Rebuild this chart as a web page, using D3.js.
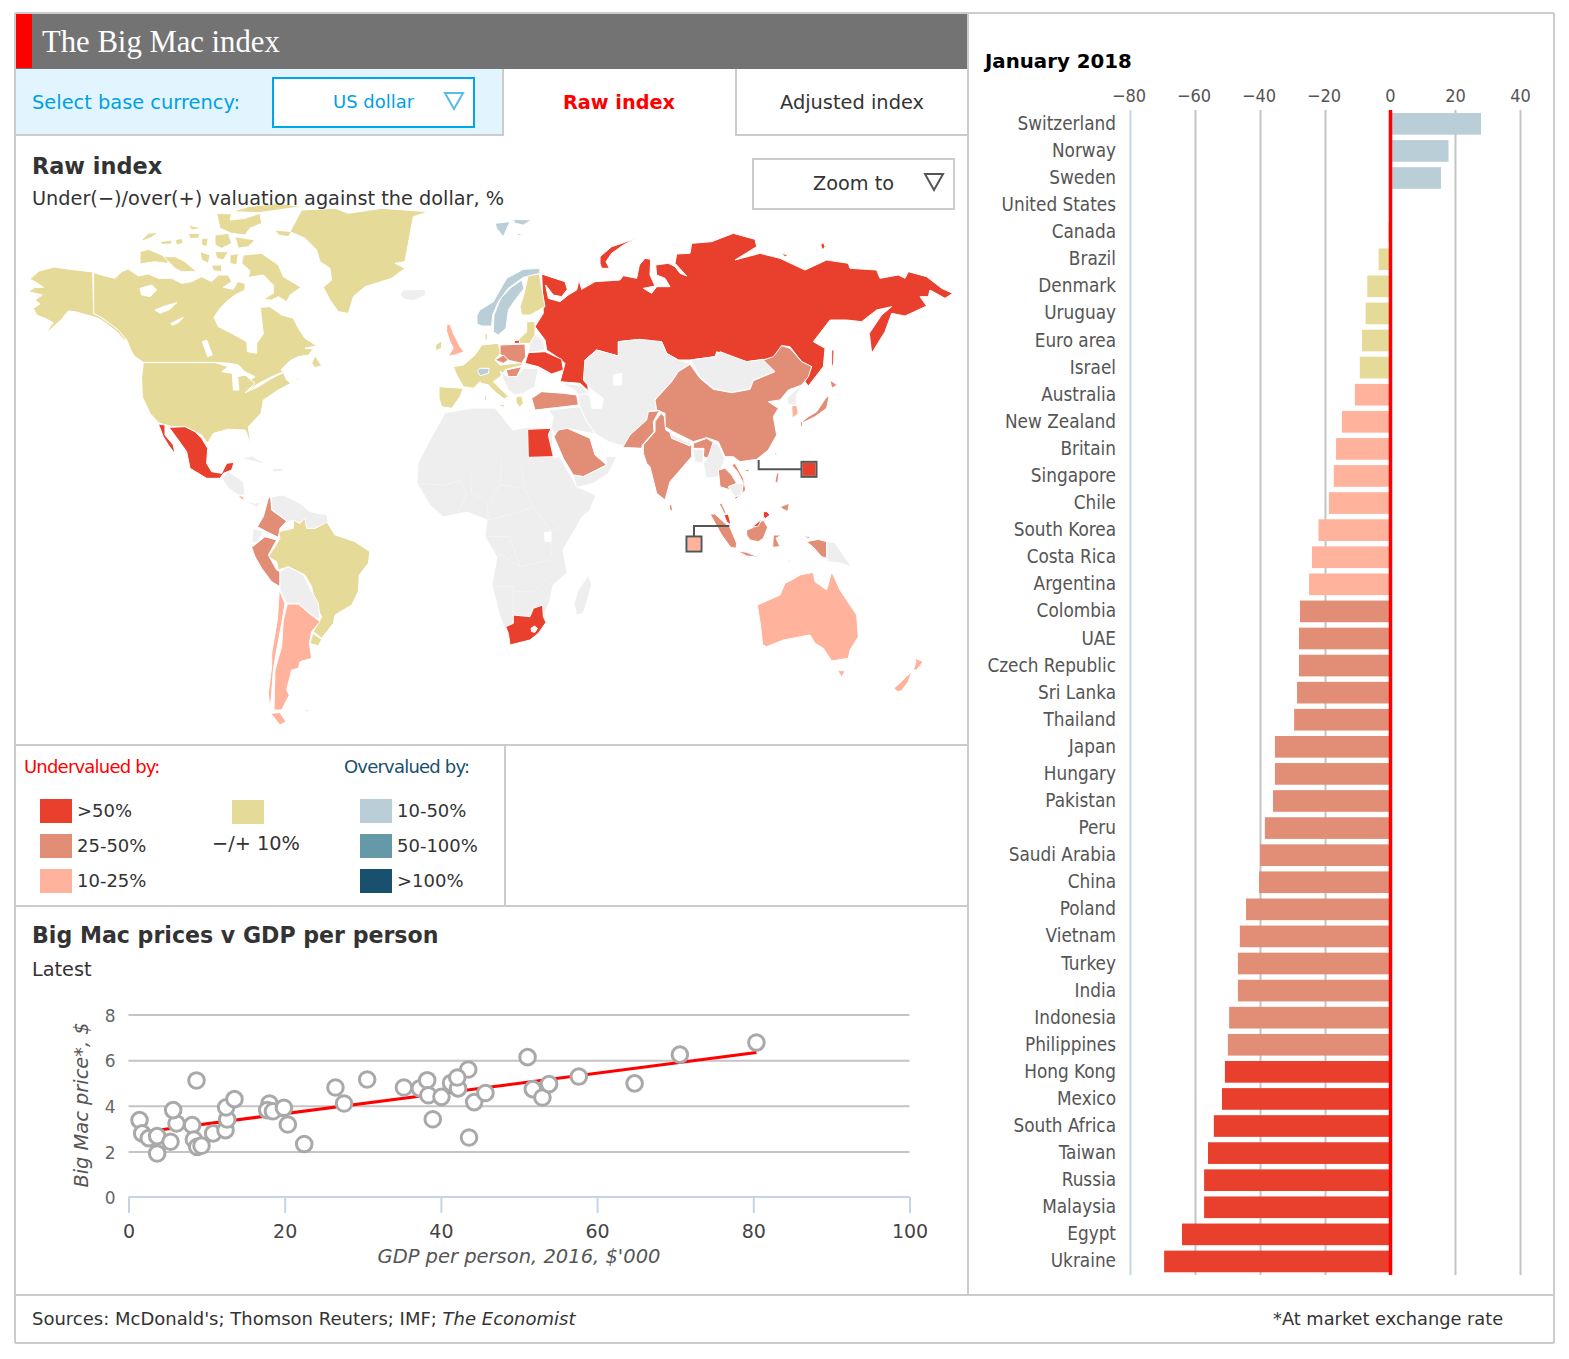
<!DOCTYPE html>
<html>
<head>
<meta charset="utf-8">
<title>The Big Mac index</title>
<script src="https://cdn.jsdelivr.net/npm/d3@7"></script>
<style>
body { margin: 0; background: #fff; }
text { font-family: "DejaVu Sans", sans-serif; fill: #333; }
.narrow { font-family: "DejaVu Sans Condensed", "Noto Sans", sans-serif; fill: #555; }
</style>
</head>
<body>
<div id="chart"></div>
<script>
// bar chart, January 2018
var countries = ["Switzerland","Norway","Sweden","United States","Canada","Brazil","Denmark","Uruguay","Euro area","Israel","Australia","New Zealand","Britain","Singapore","Chile","South Korea","Costa Rica","Argentina","Colombia","UAE","Czech Republic","Sri Lanka","Thailand","Japan","Hungary","Pakistan","Peru","Saudi Arabia","China","Poland","Vietnam","Turkey","India","Indonesia","Philippines","Hong Kong","Mexico","South Africa","Taiwan","Russia","Malaysia","Egypt","Ukraine"];
var rawIndex = [28,18,15.7,0,-0.5,-3.5,-7,-7.5,-8.6,-9.3,-10.8,-14.8,-16.6,-17.3,-18.8,-22,-24,-24.9,-27.7,-28,-28,-28.6,-29.5,-35.4,-35.4,-36,-38.5,-40,-40.3,-44.3,-46.2,-46.8,-46.8,-49.5,-49.9,-50.8,-51.7,-54.2,-56,-57.2,-57.2,-64,-69.5];
var barTicks = [-80,-60,-40,-20,0,20,40];

// scatter, GDP per person ('000) and Big Mac price ($)
var gdpPerPerson = [1.41,1.75,2.6,3.67,3.67,5.38,6.15,5.72,8.15,8.37,8.71,8.8,9.35,10.84,12.42,12.64,12.5,13.57,18.05,17.76,18.5,19.9,20.4,22.5,26.5,27.6,30.56,35.26,37.3,38.25,38.4,40.07,38.96,41.3,42.2,43.5,42.1,43.6,44.26,45.7,51.1,51.77,53,53.85,57.66,64.8,70.6,80.4];
var bigMacPrice = [3.37,2.79,2.58,2.67,1.91,2.42,3.22,3.81,3.15,2.52,5.11,2.2,2.25,2.79,2.93,3.4,3.93,4.29,4.1,3.81,3.76,3.91,3.18,2.32,4.8,4.1,5.15,4.8,4.76,5.12,4.46,4.39,3.41,5,4.76,5.59,5.24,2.61,4.16,4.56,6.13,4.73,4.36,4.95,5.28,4.98,6.24,6.77];
var trendGdp = [3.67,80.4];
var trendPrice = [2.93,6.33];

// legend
var underLabels = [">50%","25-50%","10-25%"];
var overLabels = ["10-50%","50-100%",">100%"];
var colRed = "#e9402d", colMid = "#e28e76", colLight = "#ffb29c", colSand = "#e6da98", colBlue1 = "#b9ced7", colBlue2 = "#6699a8", colBlue3 = "#19506e", colGrey = "#eeeeee", colWater = "#ffffff";
var underColors = [colRed,colMid,colLight];
var overColors = [colBlue1,colBlue2,colBlue3];

// map outlines, traced in three-to-a-pixel map units, one list per map sheet
var sheetWest = [
  [colSand,[[45,237],[72,213],[118,201],[165,208],[233,216],[236,340],[258,352],[287,372],[312,392],[333,418],[328,420],[305,395],[280,375],[255,358],[235,350],[205,342],[180,335],[160,333],[140,358],[110,385],[93,400],[105,380],[115,368],[90,355],[65,345],[55,325],[75,312],[60,300],[82,285],[40,275],[60,262],[85,262],[65,248]]],
  [colSand,[[236,218],[270,228],[300,235],[320,215],[340,207],[370,228],[400,222],[430,235],[470,235],[500,250],[530,245],[560,230],[590,245],[610,225],[640,225],[650,245],[625,262],[655,268],[668,245],[690,250],[690,270],[660,285],[640,300],[615,325],[597,352],[610,380],[650,400],[695,425],[698,455],[725,460],[725,430],[745,402],[738,345],[737,322],[765,320],[800,345],[835,355],[850,385],[870,415],[905,437],[870,445],[895,447],[880,465],[850,470],[825,482],[798,510],[805,515],[770,530],[735,548],[700,570],[690,565],[705,540],[720,530],[690,515],[670,495],[645,490],[600,487],[385,487],[360,470],[350,455],[335,420],[312,392],[287,372],[258,352],[236,340]]],
  [colSand,[[385,488],[600,488],[640,500],[620,515],[652,520],[655,570],[672,570],[668,530],[690,525],[720,550],[690,578],[730,560],[770,535],[805,518],[815,540],[828,550],[790,570],[745,600],[738,640],[700,680],[708,740],[695,700],[690,690],[640,688],[595,700],[578,730],[560,705],[540,695],[510,680],[470,680],[430,668],[405,640],[382,590],[380,530]]],
  [colSand,[[685,165],[740,160],[790,195],[805,230],[858,262],[825,285],[815,305],[790,290],[770,300],[745,298],[775,280],[775,255],[745,225],[700,232],[705,212],[680,190]]],
  [colSand,[[380,120],[400,100],[430,97],[410,112],[385,122]]],
  [colSand,[[375,155],[400,148],[440,165],[475,175],[455,190],[420,185],[375,192]]],
  [colSand,[[435,125],[470,120],[470,132],[440,133]]],
  [colSand,[[480,120],[500,115],[505,130],[485,135]]],
  [colSand,[[520,75],[560,85],[530,90]]],
  [colSand,[[520,100],[555,100],[550,115],[525,115]]],
  [colSand,[[560,115],[580,115],[575,140],[560,135]]],
  [colSand,[[600,105],[640,100],[650,130],[620,145],[600,135]]],
  [colSand,[[660,110],[720,120],[700,140],[670,145]]],
  [colSand,[[605,40],[650,42],[645,60],[690,55],[735,40],[740,70],[705,85],[690,105],[650,100],[615,85]]],
  [colSand,[[600,155],[640,155],[625,180],[605,175]]],
  [colSand,[[555,155],[585,165],[580,190],[560,180]]],
  [colSand,[[645,165],[670,160],[665,195],[645,190]]],
  [colSand,[[445,170],[480,170],[510,185],[545,215],[500,215],[480,205]]],
  [colSand,[[590,195],[620,195],[620,215],[595,212]]],
  [colSand,[[780,90],[830,95],[820,110],[790,105]]],
  [colSand,[[650,35],[730,38],[860,20],[790,10],[700,20]]],
  [colSand,[[890,490],[900,467],[920,497],[900,503]]],
  [colSand,[[830,545],[857,530],[850,538]]],
  [colSand,[[825,95],[870,115],[905,150],[915,185],[945,205],[950,240],[925,262],[945,300],[970,335],[1000,340],[1015,290],[1050,260],[1130,235],[1170,205],[1140,190],[1170,185],[1180,130],[1195,50],[1240,35],[1100,25],[1000,40],[960,25],[860,30]]],
  [colGrey,[[1155,285],[1165,270],[1230,268],[1232,285],[1195,302],[1170,298]]],
  [colLight,[[1295,375],[1305,372],[1315,400],[1335,440],[1347,455],[1320,465],[1300,468],[1315,445],[1305,425],[1295,395]]],
  [colSand,[[1262,435],[1280,422],[1280,445],[1262,452]]],
  [colSand,[[1272,560],[1345,565],[1335,590],[1310,625],[1280,620],[1272,595]]],
  [colRed,[[462,682],[510,680],[540,695],[560,715],[578,745],[575,790],[590,815],[620,820],[635,790],[657,787],[650,810],[625,820],[615,835],[575,835],[525,805],[515,755],[490,720]]],
  [colRed,[[430,672],[450,675],[450,705],[475,735],[480,762],[460,735],[445,710]]],
  [colGrey,[[680,775],[710,768],[760,795],[720,785]]],
  [colGrey,[[770,805],[805,805],[800,815],[775,815]]],
  [colWater,[[375,265],[410,255],[425,270],[405,290],[380,285]]],
  [colWater,[[420,330],[450,318],[485,308],[465,328],[435,340]]],
  [colWater,[[468,370],[505,352],[490,368],[472,376]]],
  [colWater,[[562,425],[575,420],[592,465],[578,470]]]
];

var sheetEast = [
  [colRed,[[185,222],[255,245],[262,268],[245,290],[220,285],[197,255],[205,295],[240,305],[265,285],[290,270],[297,240],[305,268],[345,245],[420,240],[430,227],[470,235],[478,195],[495,175],[512,178],[510,225],[525,258],[490,265],[515,280],[530,260],[570,260],[555,235],[530,225],[527,195],[565,190],[585,200],[600,220],[620,228],[585,190],[590,162],[630,160],[635,130],[695,125],[760,100],[825,118],[830,140],[765,180],[840,160],[900,175],[975,210],[1040,180],[1105,190],[1110,205],[1190,210],[1200,235],[1255,225],[1275,235],[1285,215],[1340,230],[1385,265],[1418,280],[1395,295],[1350,270],[1345,290],[1320,290],[1340,318],[1275,348],[1235,340],[1215,395],[1175,460],[1168,400],[1205,345],[1235,320],[1190,330],[1145,365],[1100,360],[1050,360],[1000,425],[1035,445],[1030,500],[985,558],[975,545],[995,500],[965,485],[930,440],[905,437],[880,475],[800,485],[750,470],[710,455],[705,470],[630,480],[595,480],[560,460],[545,425],[500,430],[480,418],[415,425],[415,468],[350,450],[315,480],[325,572],[300,550],[240,545],[255,490],[230,470],[200,450],[195,420],[165,380],[190,340]]],
  [colRed,[[360,190],[360,170],[395,140],[470,115],[430,135],[395,160],[378,185],[388,205],[365,205]]],
  [colRed,[[1022,135],[1030,127],[1035,140],[1028,150]]],
  [colRed,[[905,160],[925,165],[915,170]]],
  [colRed,[[1055,450],[1062,450],[1060,510],[1055,490]]],
  [colRed,[[135,490],[145,458],[195,455],[245,478],[250,510],[215,522],[175,500]]],
  [colSand,[[120,320],[130,290],[145,225],[178,222],[195,320],[150,345],[125,345]]],
  [colSand,[[115,420],[140,395],[140,365],[165,365],[165,405],[150,430],[115,430]]],
  [colRed,[[103,422],[118,420],[118,430],[103,430]]],
  [colGrey,[[150,430],[165,405],[190,420],[195,450],[145,458]]],
  [colBlue1,[[40,395],[42,345],[62,295],[90,265],[125,240],[132,265],[105,300],[85,330],[78,385],[55,405]]],
  [colBlue1,[[-9,345],[0,330],[40,305],[80,235],[130,208],[180,205],[178,220],[130,232],[85,265],[55,305],[38,345],[35,378],[5,378],[-9,372]]],
  [colBlue1,[[45,70],[90,65],[70,110],[50,85]]],
  [colBlue1,[[100,58],[155,60],[130,75],[105,70]]],
  [colBlue1,[[110,100],[128,103],[115,108]]],
  [colSand,[[15,400],[22,400],[22,420],[15,420]]],
  [colSand,[[-80,500],[-50,495],[-15,465],[5,435],[55,430],[62,460],[45,480],[60,495],[130,487],[125,497],[78,508],[60,530],[40,545],[70,575],[85,590],[72,597],[45,575],[25,555],[5,550],[0,545],[-20,565],[-50,560],[-70,525]]],
  [colBlue1,[[-8,512],[0,505],[28,505],[25,520],[0,527]]],
  [colSand,[[14,585],[20,585],[20,600],[14,600]]],
  [colSand,[[55,615],[75,612],[70,622]]],
  [colSand,[[108,590],[125,588],[130,610],[118,622],[108,605]]],
  [colMid,[[60,435],[135,432],[137,470],[125,490],[75,478],[60,460]]],
  [colMid,[[45,480],[70,465],[85,480],[70,490]]],
  [colMid,[[78,510],[125,500],[110,530],[85,530]]],
  [colGrey,[[60,515],[85,530],[110,530],[130,505],[175,505],[165,560],[130,580],[105,585],[85,570]]],
  [colMid,[[155,595],[185,575],[250,580],[290,585],[295,615],[210,625],[165,630]]],
  [colGrey,[[315,480],[350,450],[415,468],[415,425],[480,418],[545,425],[560,460],[595,480],[630,490],[595,515],[575,545],[525,598],[530,630],[505,635],[500,660],[465,695],[430,738],[385,725],[345,700],[320,665],[300,625],[295,585],[300,570],[330,590],[335,625],[365,625],[370,595],[335,570],[310,540]]],
  [colGrey,[[245,550],[300,555],[325,580],[295,585],[285,570]]],
  [colGrey,[[205,630],[300,620],[320,665],[345,700],[335,700],[262,685],[225,700],[213,685],[220,650]]],
  [colMid,[[235,690],[262,685],[330,715],[345,765],[380,795],[310,830],[280,825],[250,775],[222,710]]],
  [colGrey,[[280,825],[310,830],[380,795],[375,770],[410,770],[385,820],[340,850],[290,862]]],
  [colGrey,[[632,480],[705,470],[720,455],[800,485],[850,478],[885,515],[820,540],[810,565],[755,578],[700,565],[660,530]]],
  [colMid,[[525,600],[575,545],[595,515],[630,493],[660,535],[700,568],[755,578],[810,568],[820,542],[885,515],[850,480],[880,470],[905,437],[930,445],[965,485],[995,500],[985,530],[965,555],[925,570],[900,600],[865,605],[895,625],[880,650],[890,705],[865,750],[830,778],[780,785],[760,770],[735,770],[715,725],[680,713],[640,725],[580,695],[555,680],[555,640],[530,630]]],
  [colGrey,[[920,595],[965,555],[950,585],[950,615],[925,615]]],
  [colLight,[[935,618],[950,615],[955,640],[937,655]]],
  [colMid,[[1040,590],[1047,590],[1040,625],[1005,650],[975,665],[960,670],[985,650],[1010,635]]],
  [colMid,[[1050,540],[1072,555],[1055,565]]],
  [colMid,[[962,665],[968,665],[968,680],[962,680]]],
  [colMid,[[428,742],[450,705],[500,660],[505,635],[538,632],[520,665],[522,695],[487,735],[485,745]]],
  [colMid,[[543,640],[553,650],[557,690],[635,735],[635,770],[570,845],[555,900],[530,880],[510,800],[500,790],[490,760],[490,735],[525,695],[525,665]]],
  [colMid,[[640,730],[680,715],[705,730],[685,775],[670,770],[672,745],[640,745]]],
  [colGrey,[[570,700],[630,730],[630,738],[575,715]]],
  [colGrey,[[637,748],[670,748],[670,790],[645,785]]],
  [colGrey,[[700,725],[715,735],[735,775],[715,830],[680,835],[670,790],[685,770]]],
  [colWater,[[400,525],[425,520],[425,555],[400,555]]],
  [colRed,[[143,688],[213,685],[205,705],[220,770],[145,772]]]
];

var sheetSouth = [
  [colGrey,[[1122,430],[1135,390],[1165,345],[1175,375],[1150,460],[1130,465]]],
  [colRed,[[917,500],[940,490],[940,465],[990,470],[1000,445],[1028,435],[1030,470],[1038,487],[1015,520],[990,540],[930,555],[925,520]]],
  [colWater,[[993,505],[1003,498],[1012,505],[1005,517],[995,515]]],
  [colWater,[[1033,218],[1053,215],[1053,245],[1035,245]]],
  [colSand,[[280,180],[300,190],[315,172],[320,205],[345,205],[380,185],[405,225],[415,228],[465,245],[510,275],[505,310],[478,345],[475,395],[455,435],[405,465],[400,490],[365,535],[340,515],[355,490],[365,470],[345,430],[335,380],[315,345],[265,320],[235,330],[230,305],[205,290],[225,260],[240,235],[235,215],[280,205]]],
  [colSand,[[338,520],[365,538],[355,558],[330,550]]],
  [colMid,[[205,115],[212,110],[215,150],[260,183],[240,205],[235,232],[200,215],[172,200],[190,170]]],
  [colGrey,[[215,110],[250,105],[300,130],[330,155],[380,165],[385,185],[345,205],[320,205],[315,175],[300,190],[280,180],[265,185],[215,150]]],
  [colGrey,[[160,205],[190,215],[170,250],[155,245]]],
  [colMid,[[155,262],[195,230],[230,240],[205,285],[230,330],[240,335],[240,380],[215,365],[185,325],[165,290]]],
  [colGrey,[[240,335],[265,320],[310,345],[330,385],[355,430],[360,480],[330,460],[295,430],[260,430],[240,390]]],
  [colLight,[[238,390],[255,430],[245,490],[230,570],[220,630],[215,700],[210,750],[205,700],[215,620],[215,580],[232,480]]],
  [colLight,[[262,432],[295,432],[330,462],[360,485],[335,515],[328,550],[335,595],[300,605],[295,625],[275,630],[260,690],[268,705],[245,750],[222,750],[225,630],[245,560],[250,480]]],
  [colLight,[[212,760],[240,758],[258,785],[240,795]]],
  [colGrey,[[310,750],[330,748],[325,758]]],
  [colGrey,[[65,55],[85,35],[130,65],[135,105],[115,105],[85,85]]],
  [colLight,[[115,105],[130,110],[135,122],[120,115]]],
  [colGrey,[[138,122],[165,130],[185,125],[170,142],[150,132]]]
];

var sheetOcean = [
  [colMid,[[207,193],[215,195],[218,212],[210,212]]],
  [colMid,[[355,90],[375,85],[395,105],[410,130],[385,148],[360,140]]],
  [colMid,[[357,190],[365,190],[380,222],[372,220]]],
  [colGrey,[[385,140],[410,130],[430,130],[425,165],[405,170],[390,150]]],
  [colMid,[[405,70],[430,115],[437,150],[405,180],[405,170],[425,165],[430,130],[412,95],[395,75]]],
  [colMid,[[437,88],[447,88],[447,95],[437,95]]],
  [colRed,[[372,225],[385,222],[393,255],[380,245]]],
  [colMid,[[330,222],[345,222],[375,250],[390,262],[410,310],[408,325],[392,322],[365,285]]],
  [colMid,[[410,332],[440,337],[477,352],[440,348]]],
  [colMid,[[440,270],[455,265],[490,240],[503,262],[490,295],[475,305],[450,300],[440,285]]],
  [colRed,[[455,262],[485,238],[475,258]]],
  [colRed,[[490,215],[500,215],[510,225],[497,235],[490,232]]],
  [colMid,[[520,285],[545,285],[528,295],[540,320],[518,322]]],
  [colMid,[[530,98],[537,100],[533,130],[525,125]]],
  [colMid,[[540,200],[568,190],[563,215],[550,208]]],
  [colRed,[[525,38],[530,38],[527,50]]],
  [colMid,[[610,287],[630,290],[625,296]]],
  [colMid,[[620,305],[655,298],[680,305],[680,355],[665,350],[640,322]]],
  [colGrey,[[680,305],[705,308],[730,345],[755,380],[715,368],[682,365]]],
  [colGrey,[[555,368],[575,358],[570,368]]],
  [colLight,[[472,495],[540,465],[555,430],[575,420],[600,405],[640,397],[645,425],[680,450],[695,395],[720,450],[770,525],[775,590],[750,630],[745,655],[695,663],[670,625],[645,610],[630,585],[550,600],[500,620],[488,615],[482,560]]],
  [colLight,[[712,690],[735,693],[725,712]]],
  [colLight,[[935,632],[945,655],[970,665],[950,690],[940,690],[948,665]]],
  [colLight,[[882,745],[935,695],[925,725],[905,752],[892,755]]]
];

// Africa, one map unit to a pixel, sits under the other sheets
var sheetAfrica = [
  [colGrey,[[445,413],[472,408],[495,408],[513,430],[528,427],[552,428],[553,457],[560,457],[577,487],[596,495],[590,510],[582,517],[563,550],[567,573],[553,585],[550,600],[545,613],[545,625],[510,640],[500,617],[492,585],[497,557],[485,537],[487,520],[467,512],[443,517],[430,505],[417,483],[418,463],[430,440]]]
];
// faint inner borders of Africa, same units as sheetSouth
var africaBorders = [
  [[655,70],[740,75],[780,60],[800,105],[770,165]],
  [[810,30],[815,100],[860,125],[865,175]],
  [[905,0],[900,75],[870,125]],
  [[900,75],[975,85],[1000,140],[930,165],[860,180]],
  [[975,85],[965,20]],
  [[1000,140],[1050,210],[1055,290]],
  [[860,230],[930,230],[960,320],[1050,300]],
  [[880,270],[960,320]],
  [[880,380],[940,380],[940,465]],
  [[940,395],[1000,395],[1050,350]],
  [[1100,190],[1060,210]]
];
var calloutLines = [
  [[476,60],[476,88],[605,88]],
  [[388,258],[282,258],[282,290]]
];
var calloutBoxes = [[colRed,[627,88]],[colLight,[282,312]]];

var svg = d3.select("#chart").append("svg").attr("width", 1569).attr("height", 1359);

// frame and header
var lineCol = "#cccccc";
function rule(x1, y1, x2, y2) {
  svg.append("line").attr("x1", x1).attr("y1", y1).attr("x2", x2).attr("y2", y2).style("stroke", lineCol).style("stroke-width", 2);
}
svg.append("rect").attr("x", 15).attr("y", 14).attr("width", 953).attr("height", 55).style("fill", "#737373");
svg.append("rect").attr("x", 16).attr("y", 14).attr("width", 16).attr("height", 54).style("fill", "#ff0000");
svg.append("text").attr("x", 42).attr("y", 52).style("font-family", "'Liberation Serif', serif").style("font-size", "30.7px").style("fill", "#fff").text("The Big Mac index");

svg.append("rect").attr("x", 16).attr("y", 69).attr("width", 487).attr("height", 66).style("fill", "#e2f5fe");
svg.append("rect").attr("x", 273).attr("y", 78).attr("width", 201).attr("height", 49).style("fill", "#fff").style("stroke", "#00a7e6").style("stroke-width", 2);
svg.append("text").attr("x", 32).attr("y", 109).style("font-size", "19.4px").style("fill", "#00a0e4").text("Select base currency:");
svg.append("text").attr("x", 333).attr("y", 108).style("font-size", "18px").style("fill", "#00a0e4").text("US dollar");
svg.append("path").attr("d", "M445,93H463L454,109Z").style("fill", "none").style("stroke", "#55bde8").style("stroke-width", 2);

rule(15, 13, 1554, 13); rule(15, 13, 15, 1343); rule(1554, 13, 1554, 1343); rule(15, 1343, 1554, 1343);
rule(15, 1295, 1554, 1295); rule(968, 13, 968, 1295);
rule(503, 69, 503, 136); rule(736, 69, 736, 136); rule(15, 135, 503, 135); rule(736, 135, 968, 135);
rule(15, 745, 968, 745); rule(15, 906, 968, 906); rule(505, 745, 505, 906);

svg.append("text").attr("x", 619).attr("y", 109).attr("text-anchor", "middle").style("font-size", "19.3px").style("font-weight", "bold").style("fill", "#ff0000").text("Raw index");
svg.append("text").attr("x", 852).attr("y", 109).attr("text-anchor", "middle").style("font-size", "19.4px").text("Adjusted index");

// map
function drawSheet(list, k, ox, oy) {
  var path = d3.geoPath(d3.geoIdentity().scale(k).translate([ox, oy]));
  svg.append("g").selectAll("path").data(list).enter().append("path")
    // geoPath drops the last vertex of a ring, so close it first
    .attr("d", function(d) { return path({type: "Polygon", coordinates: [d[1].concat([d[1][0]])]}); })
    .style("fill", function(d) { return d[0]; })
    .style("stroke", "#fff").style("stroke-width", 1).style("stroke-linejoin", "round");
}
drawSheet(sheetAfrica, 1, 0, 0);
var southProj = d3.geoIdentity().scale(1/3).translate([200, 460]);
var borderPath = d3.geoPath(southProj);
svg.append("g").selectAll("path").data(africaBorders).enter().append("path")
  .attr("d", function(d) { return borderPath({type: "LineString", coordinates: d}); })
  .style("fill", "none").style("stroke", "#f4f4f4").style("stroke-width", 1);
drawSheet(sheetWest, 1/3, 15, 200);
drawSheet(sheetSouth, 1/3, 200, 460);
drawSheet(sheetEast, 1/3, 480, 200);
drawSheet(sheetOcean, 1/3, 600, 440);

var oceanProj = d3.geoIdentity().scale(1/3).translate([600, 440]);
var calloutPath = d3.geoPath(oceanProj);
svg.append("g").selectAll("path").data(calloutLines).enter().append("path")
  .attr("d", function(d) { return calloutPath({type: "LineString", coordinates: d}); })
  .style("fill", "none").style("stroke", "#555").style("stroke-width", 2);
calloutBoxes.forEach(function(b) {
  var c = oceanProj(b[1]);
  svg.append("rect").attr("x", c[0] - 7).attr("y", c[1] - 7).attr("width", 14).attr("height", 14).style("fill", b[0]).style("stroke", "#fff").style("stroke-width", 1);
  svg.append("rect").attr("x", c[0] - 7.5).attr("y", c[1] - 7.5).attr("width", 15).attr("height", 15).style("fill", "none").style("stroke", "#555").style("stroke-width", 2);
});

// headings and zoom box sit over the map
svg.append("text").attr("x", 32).attr("y", 174).style("font-size", "22.4px").style("font-weight", "bold").text("Raw index");
svg.append("text").attr("x", 32).attr("y", 205).style("font-size", "19.3px").text("Under(−)/over(+) valuation against the dollar, %");
svg.append("rect").attr("x", 753).attr("y", 159).attr("width", 201).attr("height", 50).style("fill", "#fff").style("stroke", lineCol).style("stroke-width", 2);
svg.append("text").attr("x", 813).attr("y", 190).style("font-size", "19.3px").text("Zoom to");
svg.append("path").attr("d", "M925,174H943L934,190Z").style("fill", "none").style("stroke", "#555").style("stroke-width", 2);

// legend
svg.append("text").attr("x", 24).attr("y", 773).style("font-size", "18px").style("letter-spacing", "-0.8px").style("fill", "#ff0000").text("Undervalued by:");
svg.append("text").attr("x", 344).attr("y", 773).style("font-size", "18px").style("letter-spacing", "-0.8px").style("fill", "#19506e").text("Overvalued by:");
var legendY = d3.scalePoint().domain([0,1,2]).range([799, 869]);
underColors.forEach(function(c, i) {
  svg.append("rect").attr("x", 40).attr("y", legendY(i)).attr("width", 32).attr("height", 24).style("fill", c);
  svg.append("text").attr("x", 77).attr("y", legendY(i) + 18).style("font-size", "18px").text(underLabels[i]);
  svg.append("rect").attr("x", 360).attr("y", legendY(i)).attr("width", 32).attr("height", 24).style("fill", overColors[i]);
  svg.append("text").attr("x", 397).attr("y", legendY(i) + 18).style("font-size", "18px").text(overLabels[i]);
});
svg.append("rect").attr("x", 232).attr("y", 800).attr("width", 32).attr("height", 24).style("fill", colSand);
svg.append("text").attr("x", 212).attr("y", 850).style("font-size", "19.3px").text("−/+ 10%");

// bars
var barX = d3.scaleLinear().domain([-80, 40]).range([1130, 1520]);
var barY = d3.scaleBand().domain(countries).range([110.3, 1275]).paddingInner(0.2).paddingOuter(0.1);
var barColor = d3.scaleThreshold().domain([-50,-25,-10,10,50,100]).range([colRed,colMid,colLight,colSand,colBlue1,colBlue2,colBlue3]);

svg.append("text").attr("x", 985).attr("y", 68).style("font-size", "19.8px").style("font-weight", "bold").style("fill", "#000").text("January 2018");

var barAxis = svg.append("g").attr("transform", "translate(0,110)")
  .call(d3.axisTop(barX).tickValues(barTicks).tickSize(-1165).tickPadding(8).tickFormat(function(d) { return d3.format("d")(d).replace("-", "−"); }));
barAxis.select(".domain").remove();
barAxis.selectAll("line").style("stroke", function(d) { return d == -80 ? "#c5d5e5" : "#c4c4c4"; }).style("stroke-width", 2);
barAxis.selectAll("text").attr("class", "narrow").attr("dx", function(d) { return d < 0 ? -1.5 : 0; }).style("font-size", "18px");

svg.append("g").selectAll("rect").data(countries).enter().append("rect")
  .attr("x", function(d, i) { return Math.min(barX(rawIndex[i]), barX(0)); })
  .attr("y", function(d) { return barY(d); })
  .attr("width", function(d, i) { return Math.abs(barX(rawIndex[i]) - barX(0)); })
  .attr("height", barY.bandwidth())
  .style("fill", function(d, i) { return barColor(rawIndex[i]); });

svg.append("line").attr("x1", barX(0) + 0.5).attr("x2", barX(0) + 0.5).attr("y1", 110).attr("y2", 1275).style("stroke", "#ff0000").style("stroke-width", 3.5);

var nameAxis = svg.append("g").attr("transform", "translate(1122,0)")
  .call(d3.axisLeft(barY).tickSize(0).tickPadding(6));
nameAxis.select(".domain").remove();
nameAxis.selectAll("text").attr("class", "narrow").style("font-size", "18.8px");

// scatter
svg.append("text").attr("x", 32).attr("y", 943).style("font-size", "22.1px").style("font-weight", "bold").text("Big Mac prices v GDP per person");
svg.append("text").attr("x", 32).attr("y", 976).style("font-size", "19.3px").text("Latest");

var scatterX = d3.scaleLinear().domain([0, 100]).range([128.5, 909.5]);
var scatterY = d3.scaleLinear().domain([0, 8]).range([1197, 1014.5]);

var priceAxis = svg.append("g").attr("transform", "translate(128.5,0)")
  .call(d3.axisLeft(scatterY).ticks(4).tickSize(-781).tickPadding(13));
priceAxis.select(".domain").remove();
priceAxis.selectAll("line").style("stroke", function(d) { return d == 0 ? "none" : "#c4c4c4"; }).style("stroke-width", 2);
priceAxis.selectAll("text").style("font-size", "17px").style("fill", "#666").attr("dy", "0.4em");

var gdpAxis = svg.append("g").attr("transform", "translate(0,1197)")
  .call(d3.axisBottom(scatterX).ticks(5).tickSize(16).tickPadding(12));
gdpAxis.select(".domain").attr("d", "M128.5,0H909.5").style("stroke", "#c5d5e5").style("stroke-width", 2);
gdpAxis.selectAll("line").style("stroke", "#c5d5e5").style("stroke-width", 2);
gdpAxis.selectAll("text").style("font-size", "19px").style("fill", "#444");

svg.append("line").attr("x1", scatterX(trendGdp[0])).attr("y1", scatterY(trendPrice[0])).attr("x2", scatterX(trendGdp[1])).attr("y2", scatterY(trendPrice[1])).style("stroke", "#ff0000").style("stroke-width", 3);

svg.append("g").selectAll("circle").data(gdpPerPerson).enter().append("circle")
  .attr("cx", function(d) { return scatterX(d); })
  .attr("cy", function(d, i) { return scatterY(bigMacPrice[i]); })
  .attr("r", 7.8)
  .style("fill", "#fff").style("stroke", "#a9a9a9").style("stroke-width", 3);

svg.append("text").attr("transform", "translate(88,1105) rotate(-90)").attr("text-anchor", "middle").style("font-size", "19.4px").style("font-style", "italic").style("fill", "#555").text("Big Mac price*, $");
svg.append("text").attr("x", 519).attr("y", 1263).attr("text-anchor", "middle").style("font-size", "19.5px").style("font-style", "italic").style("fill", "#555").text("GDP per person, 2016, $'000");

// footer
var source = svg.append("text").attr("x", 32).attr("y", 1325).style("font-size", "18px");
source.append("tspan").text("Sources: McDonald's; Thomson Reuters; IMF; ");
source.append("tspan").style("font-style", "italic").text("The Economist");
svg.append("text").attr("x", 1273).attr("y", 1325).style("font-size", "17.8px").text("*At market exchange rate");
</script>
</body>
</html>
